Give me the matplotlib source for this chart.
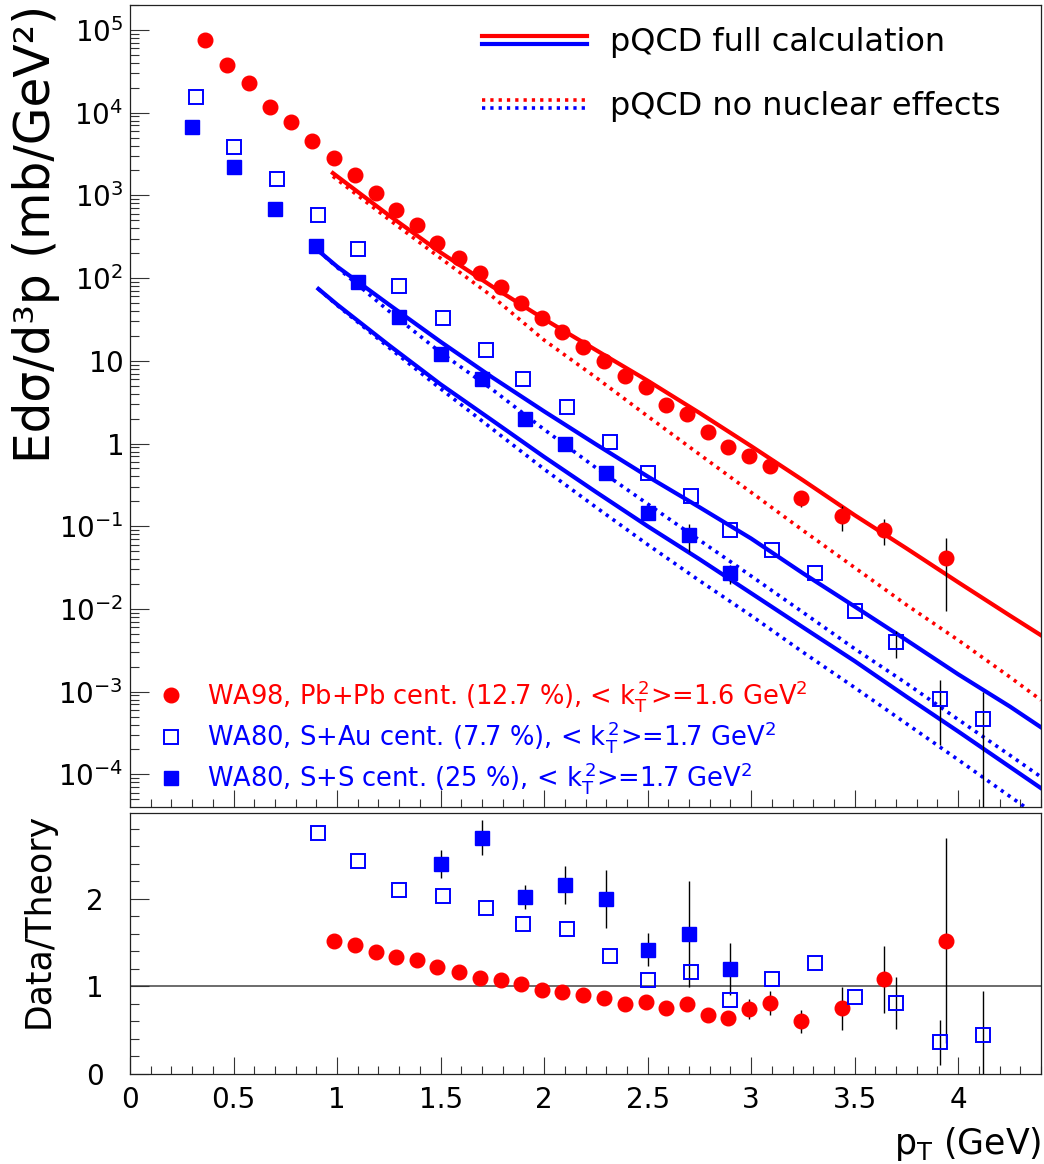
import numpy as np
import matplotlib
matplotlib.use("Agg")
import matplotlib.pyplot as plt
from matplotlib.legend_handler import HandlerBase
from matplotlib.lines import Line2D
from matplotlib.ticker import FixedLocator, FixedFormatter, MultipleLocator, LogLocator, NullFormatter

# ---- measured spectra (E d3sigma/dp3, mb/GeV^2) ----
pt_pb = [0.362, 0.468, 0.574, 0.676, 0.777, 0.878, 0.985, 1.085, 1.186, 1.287, 1.387, 1.485,
         1.588, 1.69, 1.79, 1.887, 1.99, 2.088, 2.19, 2.29, 2.39, 2.49, 2.59, 2.69,
         2.79, 2.89, 2.99, 3.09, 3.24, 3.44, 3.64, 3.94]
xs_pb = [7.6e4, 3.8e4, 2.3e4, 1.17e4, 7.7e3, 4.5e3, 2.85e3, 1.77e3, 1.07e3, 670, 435, 268,
         176, 115, 77, 50, 32.8, 22, 14.8, 10, 6.5, 4.8, 2.95, 2.25,
         1.37, 0.92, 0.71, 0.53, 0.22, 0.132, 0.09, 0.041]
relerr_pb = [0.0] * 24 + [0.08, 0.13, 0.15, 0.17, 0.22, 0.33, 0.35, 0.77]

pt_sau = [0.317, 0.5, 0.708, 0.91, 1.10, 1.30, 1.51, 1.72, 1.90, 2.11, 2.32, 2.50,
          2.71, 2.90, 3.10, 3.31, 3.50, 3.70, 3.91, 4.12]
xs_sau = [1.56e4, 3.9e3, 1.58e3, 575, 224, 80, 32.7, 13.5, 6.1, 2.74, 1.05, 0.44,
          0.234, 0.09, 0.051, 0.027, 0.0095, 0.0040, 8.1e-4, 4.7e-4]
relerr_sau = [0.0] * 17 + [0.37, 0.72, 1.13]

pt_ss = [0.30, 0.50, 0.70, 0.90, 1.10, 1.30, 1.50, 1.70, 1.91, 2.10, 2.30, 2.50, 2.70, 2.90]
xs_ss = [6.7e3, 2.2e3, 690, 245, 89, 34, 12, 6.0, 1.98, 0.99, 0.44, 0.143, 0.078, 0.027]
relerr_ss = [0.0] * 6 + [0.067, 0.076, 0.07, 0.10, 0.165, 0.13, 0.38, 0.25]

# ---- data / theory ratios ----
ratio_pb = [1.52, 1.47, 1.39, 1.34, 1.30, 1.22, 1.17, 1.10, 1.07, 1.03,
            0.96, 0.94, 0.90, 0.87, 0.80, 0.82, 0.75, 0.80, 0.67, 0.64, 0.74, 0.81,
            0.60, 0.75, 1.08, 1.52]          # from pT = 0.985
ratio_sau = [2.75, 2.43, 2.10, 2.03, 1.90, 1.71, 1.65, 1.35, 1.07, 1.17, 0.85,
             1.08, 1.27, 0.88, 0.81, 0.36, 0.446]   # from pT = 0.91
ratio_ss = [2.40, 2.70, 2.02, 2.16, 2.00, 1.42, 1.60, 1.20]   # from pT = 1.5

# ---- pQCD curves ----
pt_th_pb = [0.98, 1.25, 1.5, 1.75, 2.0, 2.25, 2.5, 2.75, 3.0, 3.25, 3.5, 3.75, 4.0, 4.25, 4.4]
th_pb_full = [1.86e3, 575, 204, 79, 32, 13.5, 5.75, 2.35, 0.93, 0.36, 0.136, 0.054, 0.021, 0.0083, 0.0048]
th_pb_none = [1.7e3, 513, 174, 60, 17.8, 6.3, 2.14, 0.74, 0.257, 0.089, 0.0316, 0.0112, 0.0042, 0.0015, 7.9e-4]

pt_th_s = [0.91, 1.0, 1.25, 1.5, 1.75, 2.0, 2.25, 2.5, 2.75, 3.0, 3.25, 3.5, 3.75, 4.0, 4.25, 4.4]
th_sau_full = [214, 138, 48, 17, 6.3, 2.45, 0.98, 0.40, 0.17, 0.071, 0.027, 0.0107, 0.0042, 0.00162, 6.6e-4, 3.7e-4]
th_sau_none = [214, 135, 40, 12.6, 4.5, 1.48, 0.51, 0.186, 0.068, 0.025, 0.0091, 0.0033, 0.00126, 4.6e-4, 1.7e-4, 9.3e-5]
th_ss_full = [74, 48, 15.5, 5.2, 1.9, 0.69, 0.26, 0.10, 0.040, 0.0155, 0.006, 0.00234, 8.7e-4, 3.3e-4, 1.23e-4, 6.8e-5]
th_ss_none = [74, 47, 14.5, 4.6, 1.5, 0.49, 0.17, 0.060, 0.022, 0.0083, 0.003, 0.00112, 4.1e-4, 1.5e-4, 5.4e-5, 2.95e-5]

decades = list(range(-4, 6))
decade_labels = [r"$\mathregular{1}$" if d == 0 else r"$\mathregular{10}$" if d == 1
                 else r"$\mathregular{10^{%d}}$" % d for d in decades]

plt.rcParams["font.family"] = ["DejaVu Sans"]
plt.rcParams["mathtext.fontset"] = "dejavusans"

RED, BLUE = "#ff0000", "#0000ff"
DOT = (0.9, 1.4)


class StackedLines(HandlerBase):
    """Legend key: the red and blue curve drawn as two parallel strokes."""
    def create_artists(self, legend, orig_handle, xdescent, ydescent, width, height, fontsize, trans):
        y0 = (height - ydescent) / 2.0
        out = []
        for line, dy in zip(orig_handle, (3.0, -3.0)):
            seg = Line2D([-xdescent, -xdescent + width], [y0 + dy, y0 + dy])
            seg.update_from(line)
            seg.set_transform(trans)
            out.append(seg)
        return out


def style_axis(ax):
    for s in ax.spines.values():
        s.set_linewidth(0.9)
        s.set_color("#222222")
    ax.tick_params(which="both", direction="in", top=False, right=False, width=0.8, colors="#333333",
                   labelcolor="black")


fig = plt.figure(figsize=(10.44, 11.64), dpi=100)
ax = fig.add_axes([0.12452, 0.30670, 0.87261, 0.68900])
axr = fig.add_axes([0.12452, 0.07732, 0.87261, 0.22423], sharex=ax)

# ---- spectra panel ----
l_pb_full, = ax.plot(pt_th_pb, th_pb_full, color=RED, lw=3.0, zorder=2)
l_pb_none, = ax.plot(pt_th_pb, th_pb_none, color=RED, lw=2.6, dashes=DOT, zorder=2)
l_sau_full, = ax.plot(pt_th_s, th_sau_full, color=BLUE, lw=3.0, zorder=2)
ax.plot(pt_th_s, th_sau_none, color=BLUE, lw=2.6, dashes=DOT, zorder=2)
ax.plot(pt_th_s, th_ss_full, color=BLUE, lw=3.0, zorder=2)
l_ss_none, = ax.plot(pt_th_s, th_ss_none, color=BLUE, lw=2.6, dashes=DOT, zorder=2)

xs_pb_a, xs_sau_a, xs_ss_a = np.array(xs_pb), np.array(xs_sau), np.array(xs_ss)
ekw = dict(ecolor="black", elinewidth=1.0, capsize=0, linestyle="none")
h_pb = ax.errorbar(pt_pb, xs_pb_a, yerr=xs_pb_a * np.array(relerr_pb), fmt="o", color=RED,
                   ms=10.5, zorder=3, **ekw)
h_sau = ax.errorbar(pt_sau, xs_sau_a, yerr=xs_sau_a * np.array(relerr_sau), fmt="s", color=BLUE,
                    mfc="none", mew=1.4, ms=10.5, zorder=3, **ekw)
h_ss = ax.errorbar(pt_ss, xs_ss_a, yerr=xs_ss_a * np.array(relerr_ss), fmt="s", color=BLUE,
                   ms=10.5, zorder=3, **ekw)

ax.set_yscale("log", nonpositive="clip")
ax.set_xlim(0, 4.4)
ax.set_ylim(10 ** -4.395, 10 ** 5.302)
ax.yaxis.set_major_locator(FixedLocator([10.0 ** d for d in decades]))
ax.yaxis.set_major_formatter(FixedFormatter(decade_labels))
ax.yaxis.set_minor_locator(LogLocator(base=10, subs=np.arange(2, 10), numticks=30))
ax.yaxis.set_minor_formatter(NullFormatter())
ax.xaxis.set_major_locator(MultipleLocator(0.5))
ax.xaxis.set_minor_locator(MultipleLocator(0.1))
style_axis(ax)
ax.tick_params(axis="y", which="major", length=13.5, pad=5, labelsize=20)
ax.tick_params(axis="y", which="minor", length=6.5)
ax.tick_params(axis="x", which="major", length=12, labelbottom=False)
ax.tick_params(axis="x", which="minor", length=6)
ax.set_ylabel("Edσ/d³p (mb/GeV²)", fontsize=35, loc="top")
ax.yaxis.set_label_coords(-0.077, 1.0)

leg_th = ax.legend(handles=[(l_pb_full, l_sau_full), (l_pb_none, l_ss_none)],
                   labels=["pQCD full calculation", "pQCD no nuclear effects"],
                   handler_map={tuple: StackedLines()}, loc="upper left",
                   bbox_to_anchor=(0.386, 0.972), frameon=False, fontsize=23,
                   handlelength=3.3, handletextpad=0.72, labelspacing=1.02,
                   borderpad=0, borderaxespad=0)
ax.add_artist(leg_th)

# marker-only keys for the data legend
ax.legend(handles=[h_pb[0], h_sau[0], h_ss[0]],
          labels=[r"WA98, Pb+Pb cent. (12.7 %), < $\mathregular{k_T^{\,2}}$>=1.6 GeV$\mathregular{^2}$",
                  r"WA80, S+Au cent. (7.7 %), < $\mathregular{k_T^{\,2}}$>=1.7 GeV$\mathregular{^2}$",
                  r"WA80, S+S cent. (25 %), < $\mathregular{k_T^{\,2}}$>=1.7 GeV$\mathregular{^2}$"],
          labelcolor=[RED, BLUE, BLUE], loc="upper left", bbox_to_anchor=(0.031, 0.161),
          frameon=False, fontsize=18.5, handlelength=1.0, handletextpad=0.9,
          labelspacing=0.2, borderpad=0, borderaxespad=0)

# ---- ratio panel ----
rb, rs, rss = np.array(ratio_pb), np.array(ratio_sau), np.array(ratio_ss)
axr.axhline(1.0, color="#444444", lw=1.1, zorder=1)
axr.errorbar(pt_pb[6:], rb, yerr=rb * np.array(relerr_pb[6:]), fmt="o", color=RED, ms=10.5,
             zorder=3, **ekw)
axr.errorbar(pt_sau[3:], rs, yerr=rs * np.array(relerr_sau[3:]), fmt="s", color=BLUE, mfc="none",
             mew=1.4, ms=10.5, zorder=3, **ekw)
axr.errorbar(pt_ss[6:], rss, yerr=rss * np.array(relerr_ss[6:]), fmt="s", color=BLUE, ms=10.5,
             zorder=3, **ekw)

axr.set_ylim(0, 2.98)
axr.yaxis.set_major_locator(FixedLocator([0, 1, 2]))
axr.yaxis.set_minor_locator(MultipleLocator(0.2))
axr.xaxis.set_major_locator(MultipleLocator(0.5))
axr.xaxis.set_minor_locator(MultipleLocator(0.1))
axr.xaxis.set_major_formatter(plt.FuncFormatter(lambda v, p: ("%g" % v)))
style_axis(axr)
axr.tick_params(axis="y", which="major", length=13.5, pad=19, labelsize=20)
axr.tick_params(axis="y", which="minor", length=6.5)
axr.tick_params(axis="x", which="major", length=12, pad=9, labelsize=20)
axr.tick_params(axis="x", which="minor", length=6)
axr.set_ylabel("Data/Theory", fontsize=25, loc="top")
axr.yaxis.set_label_coords(-0.082, 1.0)
axr.set_xlabel(r"$\mathregular{p_T}$ (GeV)", fontsize=25, loc="right")
axr.xaxis.set_label_coords(1.0, -0.195)

fig.savefig("out.png", dpi=100)
